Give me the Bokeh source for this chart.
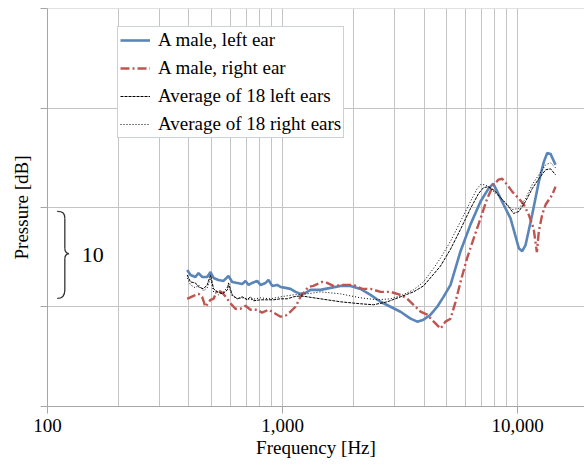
from bokeh.plotting import figure
from bokeh.models import (FixedTicker, Legend, LegendItem, Label, Range1d,
                          NumeralTickFormatter, CustomJSTickFormatter)
from bokeh.embed import file_html
from bokeh.resources import INLINE

# ---------------- data ----------------
blue_f = [393, 406, 426, 439, 455, 478, 494, 509, 534, 561,
          589, 611, 642, 674, 696, 717, 743, 780, 806, 847,
          872, 904, 949, 981, 1030, 1081, 1136, 1193, 1253, 1316,
          1451, 1601, 1765, 1947, 2147, 2369, 2612, 2882, 3178, 3505,
          3743, 3981, 4265, 4553, 4842, 5187, 5721, 6310, 6960, 7525,
          7883, 8198, 8719, 9338, 10128, 10471, 10815, 11548, 12320, 12940,
          13380, 13816, 14510]
blue_db = [-6.3, -6.8, -7.0, -6.6, -7.0, -7.0, -6.5, -7.1, -7.3, -7.4,
           -6.9, -7.5, -7.6, -7.7, -7.4, -7.8, -7.6, -7.4, -7.8, -7.6,
           -7.3, -7.9, -7.8, -8.0, -8.1, -8.2, -8.5, -8.7, -8.6, -8.3,
           -8.3, -8.1, -7.9, -7.9, -8.2, -8.8, -9.5, -10.0, -10.5, -11.2,
           -11.5, -11.3, -10.8, -10.0, -9.0, -7.8, -4.4, -1.7, 0.6, 1.9,
           2.4, 1.6, 0.3, -1.1, -4.1, -4.4, -3.8, -0.7, 2.6, 4.6,
           5.5, 5.4, 4.3]

red_f = [393, 418, 439, 455, 470, 494, 509, 528, 555, 573,
         603, 630, 662, 696, 731, 780, 818, 872, 934, 981,
         1030, 1081, 1136, 1193, 1288, 1352, 1475, 1548, 1646, 1815,
         2005, 2184, 2369, 2612, 2882, 3178, 3395, 3609, 3866, 4125,
         4400, 4702, 4935, 5187, 5448, 5721, 6102, 6510, 6960, 7429,
         7907, 8301, 8604, 9040, 9490, 10128, 10634, 11153, 11703, 11974,
         12090, 12320, 12740, 13175, 14066, 14510]
red_db = [-9.2, -8.9, -8.7, -9.0, -10.0, -9.3, -9.2, -8.3, -8.6, -9.0,
          -9.7, -10.2, -10.2, -9.9, -10.3, -10.3, -10.6, -10.3, -10.7, -11.0,
          -10.9, -10.5, -10.0, -9.0, -8.0, -7.9, -7.5, -7.6, -7.9, -7.8,
          -7.8, -8.2, -8.2, -8.5, -8.5, -8.8, -9.2, -9.8, -10.5, -10.8,
          -11.5, -12.2, -11.5, -11.2, -9.5, -7.5, -5.1, -3.1, -1.1, 0.9,
          2.3, 2.8, 2.9, 2.3, 1.6, 0.9, 0.3, -0.7, -2.1, -3.8,
          -4.5, -2.4, -0.7, 0.3, 1.3, 2.1]

avgl_f = [393, 406, 426, 439, 461, 478, 494, 509, 528, 555,
          583, 589, 611, 642, 674, 707, 731, 754, 806, 862,
          918, 981, 1048, 1114, 1193, 1275, 1451, 1765, 2147, 2440,
          2794, 3178, 3609, 3981, 4400, 4702, 5187, 5721, 6310, 6825,
          7165, 7525, 7990, 8465, 9152, 9617, 10128, 10815, 11548, 12320,
          13175, 13816, 14510]
avgl_db = [-6.8, -7.5, -7.6, -8.0, -8.2, -7.8, -6.8, -8.2, -8.5, -8.7,
           -8.3, -7.6, -8.8, -9.2, -9.0, -9.3, -9.0, -9.4, -9.3, -9.3,
           -9.3, -9.2, -9.2, -9.0, -8.9, -9.0, -9.2, -9.5, -9.7, -9.8,
           -9.5, -9.0, -8.5, -7.9, -6.7, -5.9, -4.2, -2.2, -0.1, 1.4,
           2.0, 2.1, 1.7, 1.0, 0.1, -0.6, -0.4, 0.6, 1.9, 2.9,
           3.8, 3.9, 3.3]

avgr_f = [393, 406, 426, 439, 461, 478, 494, 509, 534, 561,
          589, 611, 642, 682, 731, 806, 889, 981, 1114, 1275,
          1451, 1765, 2147, 2540, 2882, 3178, 3609, 3981, 4400, 4702,
          5187, 5721, 6310, 6730, 6960, 7303, 7677, 8198, 9040, 9490,
          10128, 10815, 11548, 12320, 13175, 13816, 14510]
avgr_db = [-7.1, -7.8, -8.1, -7.8, -8.4, -8.1, -7.1, -8.5, -8.8, -8.5,
           -7.9, -8.9, -9.2, -9.1, -9.3, -9.1, -9.2, -9.0, -8.8, -8.7,
           -8.5, -8.7, -9.1, -9.3, -9.2, -8.9, -8.3, -7.5, -6.1, -5.1,
           -3.4, -1.4, 0.6, 1.9, 2.3, 2.3, 1.9, 1.3, 0.3, -0.2,
           -0.1, 0.9, 2.3, 3.3, 4.3, 4.5, 4.0]

x_ticks = [100, 1000, 10000]
x_minor = [200, 300, 400, 500, 600, 700, 800, 900,
           2000, 3000, 4000, 5000, 6000, 7000, 8000, 9000, 20000]
y_ticks = [-20, -10, 0, 10, 20]

labels = ["A male, left ear", "A male, right ear",
          "Average of 18 left ears", "Average of 18 right ears"]

FONT = "Liberation Serif"
GRID = "#c4c4c4"
AXIS = "#a6a6a6"

p = figure(width=584, height=460, x_axis_type="log",
           x_range=Range1d(100, 19275), y_range=Range1d(-20.05, 20.05),
           output_backend="svg", toolbar_location=None,
           min_border_left=47, min_border_right=0,
           min_border_top=8, min_border_bottom=0)
p.outline_line_color = None
p.background_fill_color = "white"

# axes
p.xaxis.ticker = FixedTicker(ticks=x_ticks, minor_ticks=x_minor)
p.xaxis.formatter = NumeralTickFormatter(format="0,0")
p.xaxis.axis_label = "Frequency [Hz]"
p.yaxis.ticker = FixedTicker(ticks=y_ticks)
p.yaxis.formatter = CustomJSTickFormatter(code="return ''")
p.yaxis.axis_label = "Pressure [dB]"
for ax in (p.xaxis[0], p.yaxis[0]):
    ax.axis_line_color = AXIS
    ax.major_tick_line_color = AXIS
    ax.major_tick_in = 0
    ax.major_tick_out = 7
    ax.minor_tick_line_color = None
    ax.major_label_text_font = FONT
    ax.major_label_text_font_size = "19px"
    ax.major_label_text_color = "black"
    ax.axis_label_text_font = "Times New Roman"
    ax.axis_label_text_font_size = "19px"
    ax.axis_label_text_font_style = "normal"
    ax.axis_label_text_color = "black"
p.xaxis.major_label_standoff = 5
p.xaxis.axis_label_standoff = 2
p.yaxis.major_label_standoff = 0
p.yaxis.axis_label_standoff = 9

p.xgrid.grid_line_color = GRID
p.xgrid.minor_grid_line_color = GRID
p.ygrid.grid_line_color = GRID

# series
r_blue = p.line(blue_f, blue_db, line_color="#5a85b8", line_width=2.6)
r_red = p.line(red_f, red_db, line_color="#bf5450", line_width=2.4,
               line_dash="9 3 2 3")
r_avgl = p.line(avgl_f, avgl_db, line_color="black", line_width=1,
                line_dash="3 1")
r_avgr = p.line(avgr_f, avgr_db, line_color="black", line_width=1,
                line_dash="1 2")

legend = Legend(items=[LegendItem(label=labels[0], renderers=[r_blue]),
                       LegendItem(label=labels[1], renderers=[r_red]),
                       LegendItem(label=labels[2], renderers=[r_avgl]),
                       LegendItem(label=labels[3], renderers=[r_avgr])],
                location=(70, 268))
legend.margin = 0
legend.padding = 2
legend.spacing = 6
legend.glyph_width = 30
legend.glyph_height = 18
legend.label_height = 18
legend.label_standoff = 8
legend.label_text_font = FONT
legend.label_text_font_size = "19px"
legend.label_text_color = "black"
legend.border_line_color = "#9aa4ae"
legend.border_line_width = 1
legend.background_fill_color = "white"
legend.background_fill_alpha = 1
p.add_layout(legend, "center")

# "10 dB" brace annotation
xl, xm, xp = 110, 118.5, 123.5
bc = "#333333"
p.bezier(x0=[xl, xm, xp, xm], y0=[-0.4, -4.15, -4.65, -8.3],
         x1=[xm, xp, xm, xl], y1=[-1.1, -4.65, -5.15, -9.16],
         cx0=[116.5, xm, 121.5, xm], cy0=[-0.4, -4.5, -4.65, -8.85],
         cx1=[xm, 121.5, xm, 116.5], cy1=[-0.6, -4.65, -4.8, -9.16],
         line_color=bc, line_width=1.3)
p.segment(x0=[xm, xm], y0=[-1.1, -5.15], x1=[xm, xm], y1=[-4.15, -8.3],
          line_color=bc, line_width=1.3)
p.add_layout(Label(x=140, y=-4.8, text="10", text_font=FONT,
                   text_font_size="22px", text_baseline="middle",
                   text_color="black"))

open("out.html", "w").write(file_html(p, INLINE))
